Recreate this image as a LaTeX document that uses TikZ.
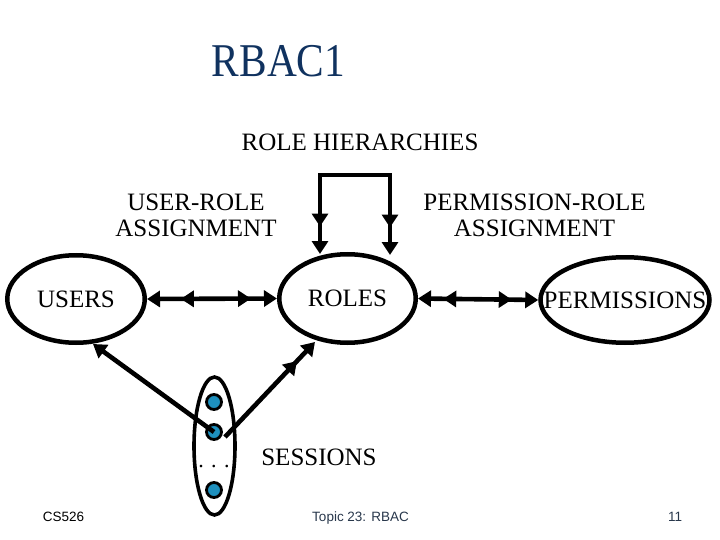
\documentclass[tikz,border=0pt]{standalone}
\usepackage{fontspec}
\setmainfont{Liberation Serif}
\newfontfamily\footfont{Liberation Sans}
\usetikzlibrary{arrows.meta,decorations.markings,shapes.geometric}
\definecolor{titlecol}{RGB}{16,50,95}
\definecolor{footcol}{RGB}{40,55,75}
\definecolor{dotcol}{RGB}{30,144,190}
\tikzset{
  bigtip/.tip={Triangle[length=13pt,width=16pt]},
  conn/.style={line width=4.6pt},
  fwdmark/.style={postaction={decorate,decoration={markings,mark=at position #1 with {\arrow{bigtip}}}}},
  bwdmark/.style={postaction={decorate,decoration={markings,mark=at position #1 with {\arrowreversed{bigtip}}}}},
  setnode/.style={ellipse,draw,line width=4.5pt,inner sep=0pt},
  dotnode/.style={circle,draw=black,fill=dotcol,line width=2.8pt,minimum size=15pt,inner sep=0pt},
  bodytext/.style={font=\fontsize{25}{26}\selectfont,inner sep=0pt},
  foottext/.style={font=\footfont\fontsize{13.5}{15}\selectfont,inner sep=0pt,anchor=base}
}
\begin{document}
\begin{tikzpicture}[x=1pt,y=-1pt]
\useasboundingbox (0,0) rectangle (720,540);
% title
\node[anchor=base,inner sep=0pt,text=titlecol,font=\fontsize{47}{50}\selectfont] (title) at (278.5,77) {\scalebox{0.88}[1]{RBAC1}};
% ellipses
\node[setnode,minimum width=137.5pt,minimum height=87.5pt,label={[bodytext]center:USERS}] (users) at (76,299) {};
\node[setnode,minimum width=136.5pt,minimum height=88.5pt,label={[bodytext]center:ROLES}] (roles) at (347.5,298.5) {};
\node[setnode,minimum width=169pt,minimum height=85.5pt,label={[bodytext]center:PERMISSIONS}] (perms) at (625,300) {};
\node[setnode,line width=3.6pt,minimum width=41pt,minimum height=138pt] (sess) at (214.5,446) {};
% session dots
\node[dotnode] (s1) at (214,402) {};
\node[dotnode] (s2) at (214,432) {};
\node[dotnode] (s3) at (214,490) {};
\node[anchor=base,inner sep=0pt,font=\fontsize{22}{24}\selectfont] (dots) at (214,467) {. . .};
% labels
\node[bodytext,anchor=base] (rh) at (360,151) {ROLE HIERARCHIES};
\node[bodytext,align=center] (ura) at (196,215.5) {USER-ROLE\\ASSIGNMENT};
\node[bodytext,align=center] (pra) at (534.5,215.5) {PERMISSION-ROLE\\ASSIGNMENT};
\node[bodytext,anchor=base] (sesslbl) at (319,465) {SESSIONS};
% connectors
\draw[conn,bigtip-bigtip,bwdmark=0.26,fwdmark=0.80] (users.east) -- (roles.west);
\draw[conn,bigtip-bigtip,bwdmark=0.21,fwdmark=0.78] (roles.east) -- (perms.west);
\coordinate (h1) at (320,175);
\coordinate (h2) at (390,175);
\coordinate (r1) at (320,254);
\coordinate (r2) at (390,255);
\draw[conn,bigtip-bigtip,bwdmark=0.12,fwdmark=0.88] (r1) -- (h1) -- (h2) -- (r2);
\coordinate (uarr) at (93,344);
\coordinate (rarr) at (315,342);
\coordinate (sr) at (225,437);
\draw[conn,-bigtip] (s2.center) -- (uarr);
\draw[conn,-bigtip,fwdmark=0.80] (sr) -- (rarr);
% footer
\node[foottext,text=black] (cs) at (63.5,521) {CS526};
\node[foottext,text=footcol] (topic) at (360.5,521) {Topic 23: RBAC};
\node[foottext,text=footcol] (pg) at (675,521) {11};
\end{tikzpicture}
\end{document}
